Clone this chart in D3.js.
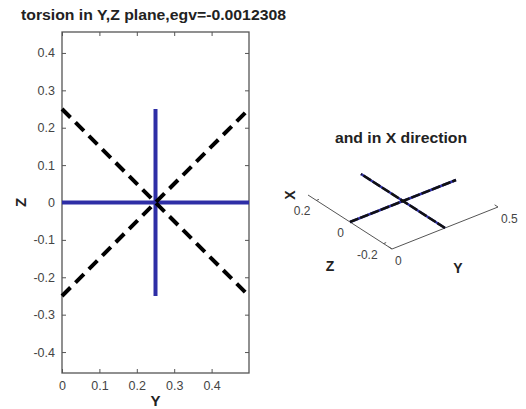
<!DOCTYPE html>
<html>
<head>
<meta charset="utf-8">
<script src="https://cdn.jsdelivr.net/npm/d3@7"></script>
<style>
  html, body { margin: 0; padding: 0; background: #fff; }
  svg { display: block; font-family: "Liberation Sans", Arial, sans-serif; }
</style>
</head>
<body>
<svg id="chart" width="526" height="409"></svg>
<script>
// Mode shape: torsion in the Y,Z plane
const titleMain = "torsion in Y,Z plane,egv=-0.0012308";
const title3d = "and in X direction";

const yTicks = [0, 0.1, 0.2, 0.3, 0.4];
const zTicks = [-0.4, -0.3, -0.2, -0.1, 0, 0.1, 0.2, 0.3, 0.4];
const yDomain = [0, 0.5];
const zDomain = [-0.456, 0.456];

// undeformed members (blue, solid): each is [[y0, z0], [y1, z1]]
const undeformed = [
  [[0, 0], [0.5, 0]],
  [[0.25, -0.25], [0.25, 0.25]]
];
// deformed members (black, dashed)
const deformed = [
  [[0, 0.25], [0.5, -0.25]],
  [[0, -0.25], [0.5, 0.25]]
];
// members as seen in the oblique view (x = 0 everywhere)
const members3d = [
  [[0, 0], [0.5, 0]],
  [[0.25, -0.25], [0.25, 0.25]]
];
const yTicks3d = [0, 0.5];
const zTicks3d = [-0.2, 0, 0.2];
const yRange3d = [0, 0.5];
const zRange3d = [-0.25, 0.25];

const BLUE = "#2e2ea6";
const AXIS = "#555";
const TXT = "#444";

const svg = d3.select("#chart");

// plain hyphen-minus labels, "0" without decimals
const fmt = d => d === 0 ? "0" : d3.format(".1f")(d).replace("\u2212", "-");

// ---------- left panel: Y-Z plane ----------
const L = { left: 62, right: 249, top: 32, bottom: 373 };
const x = d3.scaleLinear().domain(yDomain).range([L.left, L.right]);
const y = d3.scaleLinear().domain(zDomain).range([L.bottom, L.top]);

svg.append("text")
  .attr("x", 21).attr("y", 20)
  .attr("font-size", 14.5).attr("font-weight", "bold").attr("fill", "#222")
  .attr("textLength", 265).attr("lengthAdjust", "spacingAndGlyphs")
  .text(titleMain);

function styleAxis(g, showLabels) {
  g.select(".domain").remove();
  g.selectAll(".tick line").attr("stroke", AXIS).attr("stroke-width", 1);
  g.selectAll(".tick text").attr("fill", TXT).attr("font-size", 12.5)
    .style("display", showLabels ? null : "none");
}

svg.append("g").attr("transform", `translate(0,${L.bottom})`)
  .call(d3.axisBottom(x).tickValues(yTicks).tickFormat(fmt).tickSize(-4).tickPadding(8))
  .attr("font-family", null)
  .call(g => styleAxis(g, true));
svg.append("g").attr("transform", `translate(0,${L.top})`)
  .call(d3.axisTop(x).tickValues(yTicks).tickSize(-4))
  .call(g => styleAxis(g, false));
svg.append("g").attr("transform", `translate(${L.left},0)`)
  .call(d3.axisLeft(y).tickValues(zTicks).tickFormat(fmt).tickSize(-4).tickPadding(7))
  .attr("font-family", null)
  .call(g => styleAxis(g, true));
svg.append("g").attr("transform", `translate(${L.right},0)`)
  .call(d3.axisRight(y).tickValues(zTicks).tickSize(-4))
  .call(g => styleAxis(g, false));

svg.append("rect")
  .attr("x", L.left).attr("y", L.top)
  .attr("width", L.right - L.left).attr("height", L.bottom - L.top)
  .attr("fill", "none").attr("stroke", AXIS).attr("stroke-width", 1.3);

const seg = d3.line().x(d => x(d[0])).y(d => y(d[1]));

svg.append("g").selectAll("path").data(undeformed).join("path")
  .attr("d", seg).attr("fill", "none")
  .attr("stroke", BLUE).attr("stroke-width", 4);

svg.append("g").selectAll("path").data(deformed).join("path")
  .attr("d", seg).attr("fill", "none")
  .attr("stroke", "#000").attr("stroke-width", 4)
  .attr("stroke-dasharray", "12,7");

svg.append("text")
  .attr("x", (L.left + L.right) / 2).attr("y", 406)
  .attr("text-anchor", "middle").attr("font-size", 15).attr("font-weight", "bold").attr("fill", "#222")
  .text("Y");
svg.append("text")
  .attr("transform", `translate(26,${y(0)}) rotate(-90)`)
  .attr("text-anchor", "middle").attr("font-size", 15).attr("font-weight", "bold").attr("fill", "#222")
  .text("Z");

// ---------- right panel: oblique view ----------
// screen position = origin + Y * vy + Z * vz
const sy = d3.scaleLinear().domain([0, 1]).range([0, 1]);
const origin = [350, 222];
const vy = [212, -84];
const vz = [-168, -108];
const proj = (yy, zz) => [
  origin[0] + vy[0] * sy(yy) + vz[0] * sy(zz),
  origin[1] + vy[1] * sy(yy) + vz[1] * sy(zz)
];
const seg3 = d3.line().x(d => proj(d[0], d[1])[0]).y(d => proj(d[0], d[1])[1]);

svg.append("text")
  .attr("x", 401).attr("y", 143)
  .attr("text-anchor", "middle").attr("font-size", 14).attr("font-weight", "bold").attr("fill", "#222")
  .attr("textLength", 132).attr("lengthAdjust", "spacingAndGlyphs")
  .text(title3d);

const ax3 = svg.append("g").attr("stroke", AXIS).attr("stroke-width", 1).attr("fill", "none");
// Z axis along Y = 0
ax3.append("path").attr("d", seg3([[yRange3d[0], zRange3d[1]], [yRange3d[0], zRange3d[0]]]));
// Y axis along Z = min
ax3.append("path").attr("d", seg3([[yRange3d[0], zRange3d[0]], [yRange3d[1], zRange3d[0]]]));
ax3.selectAll(".zt").data(zTicks3d).join("path").attr("class", "zt")
  .attr("d", d => seg3([[0, d], [0.012, d]]));
ax3.selectAll(".yt").data(yTicks3d).join("path").attr("class", "yt")
  .attr("d", d => seg3([[d, zRange3d[0]], [d, zRange3d[0] + 0.02]]));

const lab3 = svg.append("g").attr("fill", TXT).attr("font-size", 12);
lab3.selectAll(".zl").data(zTicks3d).join("text").attr("class", "zl")
  .attr("x", d => proj(0, d)[0] - 6).attr("y", d => proj(0, d)[1] + 15)
  .attr("text-anchor", "end").text(fmt);
lab3.selectAll(".yl").data(yTicks3d).join("text").attr("class", "yl")
  .attr("x", d => proj(d, zRange3d[0])[0] + 3).attr("y", d => proj(d, zRange3d[0])[1] + 16)
  .text(d => d === 0 ? "0" : String(d));

svg.append("text").attr("x", 458).attr("y", 273)
  .attr("text-anchor", "middle").attr("font-size", 14).attr("font-weight", "bold").attr("fill", "#222")
  .text("Y");
svg.append("text").attr("x", 330).attr("y", 271)
  .attr("text-anchor", "middle").attr("font-size", 14).attr("font-weight", "bold").attr("fill", "#222")
  .text("Z");
svg.append("text")
  .attr("transform", "translate(295,195) rotate(-90)")
  .attr("text-anchor", "middle").attr("font-size", 14).attr("font-weight", "bold").attr("fill", "#222")
  .text("X");

svg.append("g").selectAll("path").data(members3d).join("path")
  .attr("d", seg3).attr("fill", "none")
  .attr("stroke", BLUE).attr("stroke-width", 2.5);
svg.append("g").selectAll("path").data(members3d).join("path")
  .attr("d", seg3).attr("fill", "none")
  .attr("stroke", "#111").attr("stroke-width", 2.5)
  .attr("stroke-dasharray", "9,2");
</script>
</body>
</html>
